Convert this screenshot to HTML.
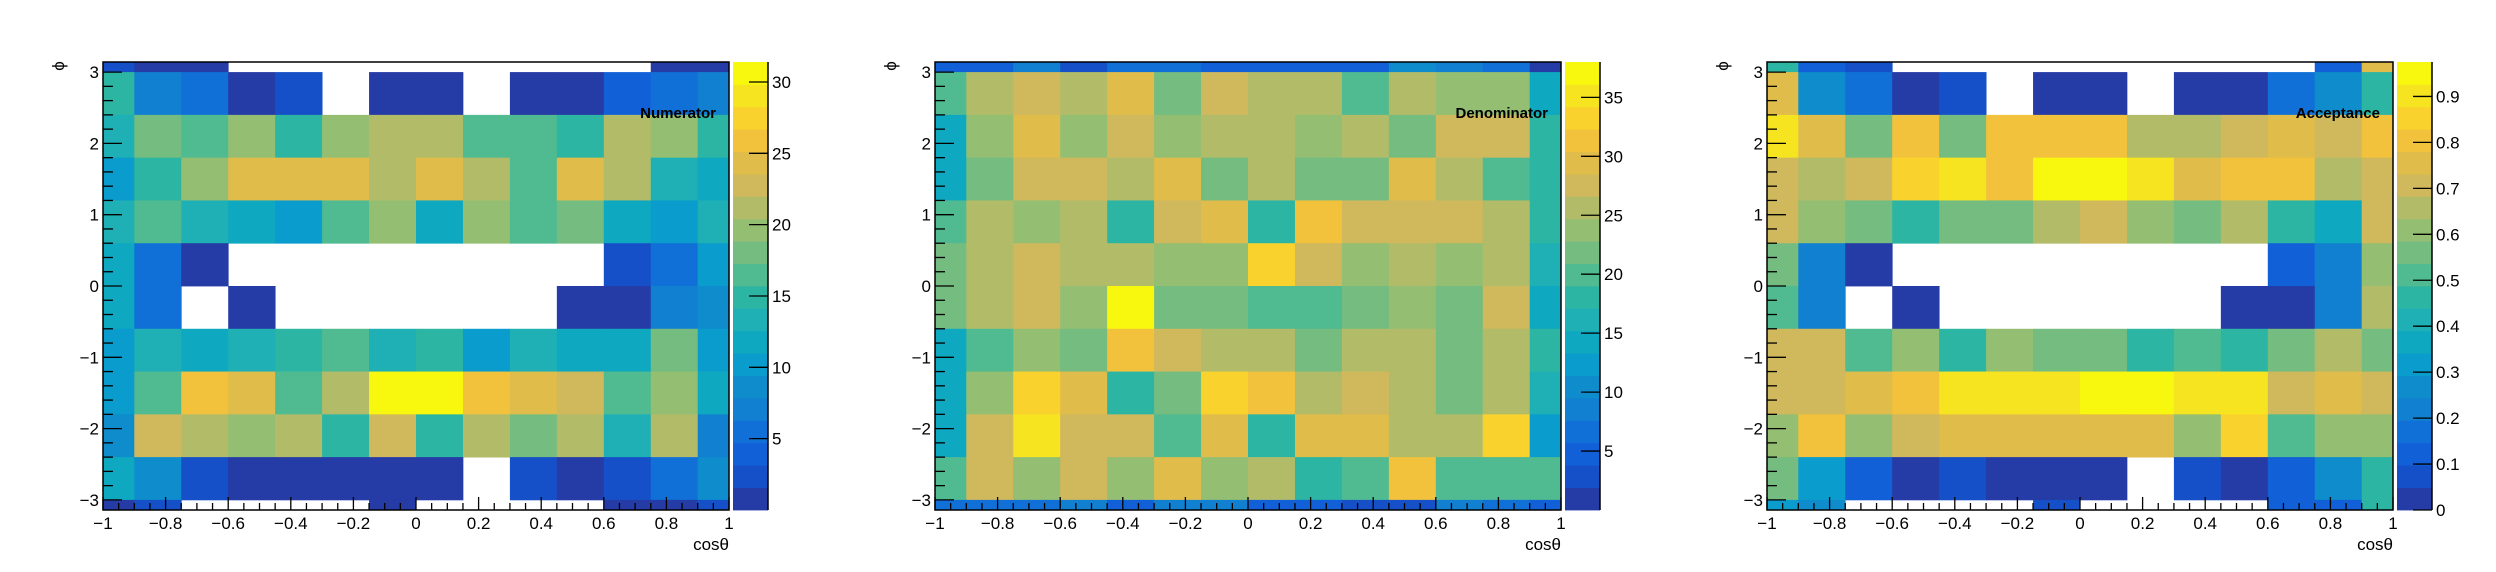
<!DOCTYPE html>
<html><head><meta charset="utf-8">
<style>
html,body{margin:0;padding:0;background:#fff;}
svg{display:block;font-family:"Liberation Sans",Arial,sans-serif;}
</style></head>
<body>
<svg id="c" width="2496" height="572" xmlns="http://www.w3.org/2000/svg"></svg>
<script>
// bin edges (cosθ and φ, φ from top to bottom)
const xEdges = [-1,-0.9,-0.75,-0.6,-0.45,-0.3,-0.15,0,0.15,0.3,0.45,0.6,0.75,0.9,1];
const yEdges = [3.14159,3,2.4,1.8,1.2,0.6,0,-0.6,-1.2,-1.8,-2.4,-3,-3.14159];
const panelTitles = ["Numerator","Denominator","Acceptance"];
const zMax = [31.4, 38.0, 0.975];
const zTicks1 = [5,10,15,20,25,30];
const zTicks2 = [5,10,15,20,25,30,35];
const zTicks3 = [0,0.1,0.2,0.3,0.4,0.5,0.6,0.7,0.8,0.9];
const xTicks = [-1,-0.8,-0.6,-0.4,-0.2,0,0.2,0.4,0.6,0.8,1];
const yTicks = [-3,-2,-1,0,1,2,3];
// Numerator counts (rows top->bottom in φ)
const numerator = [
[2,1,1,0,0,0,0,0,0,0,0,0,1,1],
[15,7,5,1,2,0,1,1,0,1,1,4,5,7],
[13,18,16,19,15,19,21,21,16,16,15,21,19,15],
[10,15,19,24,24,24,21,24,21,16,24,21,13,12],
[13,16,13,12,10,16,19,12,19,16,18,12,10,13],
[12,5,1,0,0,0,0,0,0,0,0,2,5,10],
[12,5,0,1,0,0,0,0,0,0,1,1,7,9],
[10,13,12,13,15,16,13,15,10,13,12,12,18,10],
[10,16,26,24,16,21,31,31,26,24,23,16,19,12],
[9,23,21,19,21,15,23,15,21,18,21,13,21,7],
[12,9,2,1,1,1,1,1,0,2,1,2,5,9],
[1,2,0,0,0,0,1,0,0,0,0,1,1,2]];
const denominator = [
[5,5,9,3,7,7,5,5,5,5,10,9,7,1],
[20,26,28,26,29,22,28,26,26,20,26,24,24,14],
[14,24,29,24,28,24,26,26,24,26,22,28,28,18],
[14,22,28,28,26,29,22,26,22,22,29,26,20,18],
[20,26,24,26,18,28,29,18,31,28,28,28,26,18],
[22,26,28,26,26,24,24,33,28,24,26,24,26,16],
[22,26,28,24,37,22,22,20,20,22,24,22,28,14],
[14,20,24,22,31,28,26,26,22,26,26,22,26,18],
[14,24,33,29,18,22,33,31,26,28,26,22,26,16],
[14,28,35,28,28,20,29,18,29,29,26,26,33,12],
[20,28,24,28,24,29,24,26,18,20,31,20,20,20],
[7,7,7,9,5,9,9,5,5,3,3,9,7,5]];
const acceptance = [
[.46,.12,.07,0,0,0,0,0,0,0,0,0,.12,.76],
[.76,.27,.17,.02,.07,0,.02,.02,0,.02,.02,.17,.27,.46],
[.90,.76,.56,.80,.56,.80,.80,.80,.66,.66,.71,.76,.71,.80],
[.71,.66,.71,.85,.90,.80,.95,.95,.90,.76,.80,.80,.66,.71],
[.71,.61,.56,.46,.56,.56,.66,.71,.61,.56,.66,.46,.37,.71],
[.56,.22,.02,0,0,0,0,0,0,0,0,.12,.22,.61],
[.51,.22,0,.02,0,0,0,0,0,0,.02,.02,.22,.66],
[.71,.71,.51,.61,.46,.61,.56,.56,.46,.51,.46,.56,.66,.56],
[.71,.71,.76,.80,.90,.90,.90,.95,.95,.90,.90,.71,.76,.71],
[.61,.80,.61,.71,.76,.76,.76,.76,.76,.61,.85,.51,.61,.61],
[.56,.32,.12,.02,.07,.02,.02,.02,0,.07,.02,.12,.27,.46],
[.32,.27,0,0,0,0,.07,0,0,0,0,.12,.12,.46]];

const palette = ["#253ba5","#1650c8","#1260d8","#1070d8","#1280d0","#0e8ccc","#0a9ccc","#0ea8c0","#1eb0b4","#2cb5a3",
"#50ba90","#74bc80","#94be72","#b2bc68","#d0b85c","#e0bc4a","#f2c23c","#fad22e","#f6e420","#f8f80e"];

const NS="http://www.w3.org/2000/svg";
const svg=document.getElementById('c');
function mk(tag,attrs,parent){const e=document.createElementNS(NS,tag);for(const k in attrs)e.setAttribute(k,attrs[k]);(parent||svg).appendChild(e);return e;}
function fmt(v){let s=(Math.round(v*10)/10).toString();return s.replace('-','\u2212');}

const datasets=[numerator,denominator,acceptance];
const zTicksAll=[zTicks1,zTicks2,zTicks3];
const names=["numerator","denominator","acceptance"];

datasets.forEach((data,p)=>{
  const ox=832*p;
  const X0=103+ox,X1=729+ox,Y0=62,Y1=510;
  const sx=v=>X0+(v+1)/2*(X1-X0);
  const sy=v=>Y1-(v+Math.PI)/(2*Math.PI)*(Y1-Y0);
  const g=mk('g',{});
  
  
  const cells=mk('g',{},g);
  
  
  const zm=zMax[p];
  data.forEach((row,r)=>{
    row.forEach((v,c)=>{
      if(!(v>0))return;
      let li=Math.floor(v/zm*20); if(li<0)li=0; if(li>19)li=19;
      const xa=sx(xEdges[c]),xb=sx(xEdges[c+1]),ya=sy(yEdges[r]),yb=sy(yEdges[r+1]);
      const rc=mk('rect',{x:xa,y:ya,width:xb-xa+0.4,height:yb-ya+0.4,fill:palette[li]},cells);
      
      
    });
  });
  const fr=mk('rect',{x:X0,y:Y0,width:X1-X0,height:Y1-Y0,fill:'none',stroke:'#000','stroke-width':1.5},g);
  
  
  // y axis ticks
  for(let i=-15;i<=15;i++){const v=i*0.2;const y=sy(v);const major=(i%5===0);
    mk('line',{x1:X0,x2:X0+(major?19:10),y1:y,y2:y,stroke:'#000','stroke-width':1.3},g);}
  yTicks.forEach(v=>{const t=mk('text',{x:X0-4,y:sy(v)+6,'font-size':17,'text-anchor':'end'},g);t.textContent=fmt(v);
    });
  // x axis ticks
  for(let i=-20;i<=20;i++){const v=i*0.05;const x=sx(v);const major=(i%4===0);
    mk('line',{x1:x,x2:x,y1:Y1,y2:Y1-(major?13:7),stroke:'#000','stroke-width':1.3},g);}
  xTicks.forEach(v=>{const t=mk('text',{x:sx(v),y:529,'font-size':17,'text-anchor':'middle'},g);t.textContent=fmt(v);
    });
  const xt=mk('text',{x:X1,y:550,'font-size':17,'text-anchor':'end'},g);xt.textContent='cos\u03b8';
  
  const yt=mk('text',{x:0,y:0,'font-size':17,'text-anchor':'middle',transform:'translate('+(64+ox)+',66) rotate(-90)'},g);yt.textContent='\u03d5';
  
  const tt=mk('text',{x:X1-13,y:118,'font-size':15,'font-weight':'bold','text-anchor':'end'},g);tt.textContent=panelTitles[p];
  
  // colour bar
  const CX0=733+ox,CX1=768+ox;
  const cb=mk('g',{},g);
  
  
  const sz=v=>Y1-v/zm*(Y1-Y0);
  for(let i=0;i<20;i++){const ya=sz((i+1)*zm/20),yb=sz(i*zm/20);
    mk('rect',{x:CX0,y:ya,width:CX1-CX0,height:yb-ya+0.4,fill:palette[i]},cb);}
  mk('line',{x1:CX1,x2:CX1,y1:Y0,y2:Y1,stroke:'#000','stroke-width':1.5},cb);
  zTicksAll[p].forEach(v=>{const y=sz(v);
    mk('line',{x1:CX1-19,x2:CX1,y1:y,y2:y,stroke:'#000','stroke-width':1.3},cb);
    const t=mk('text',{x:CX1+4,y:y+6,'font-size':17},cb);t.textContent=fmt(v);
    });
});
</script>
</body></html>
